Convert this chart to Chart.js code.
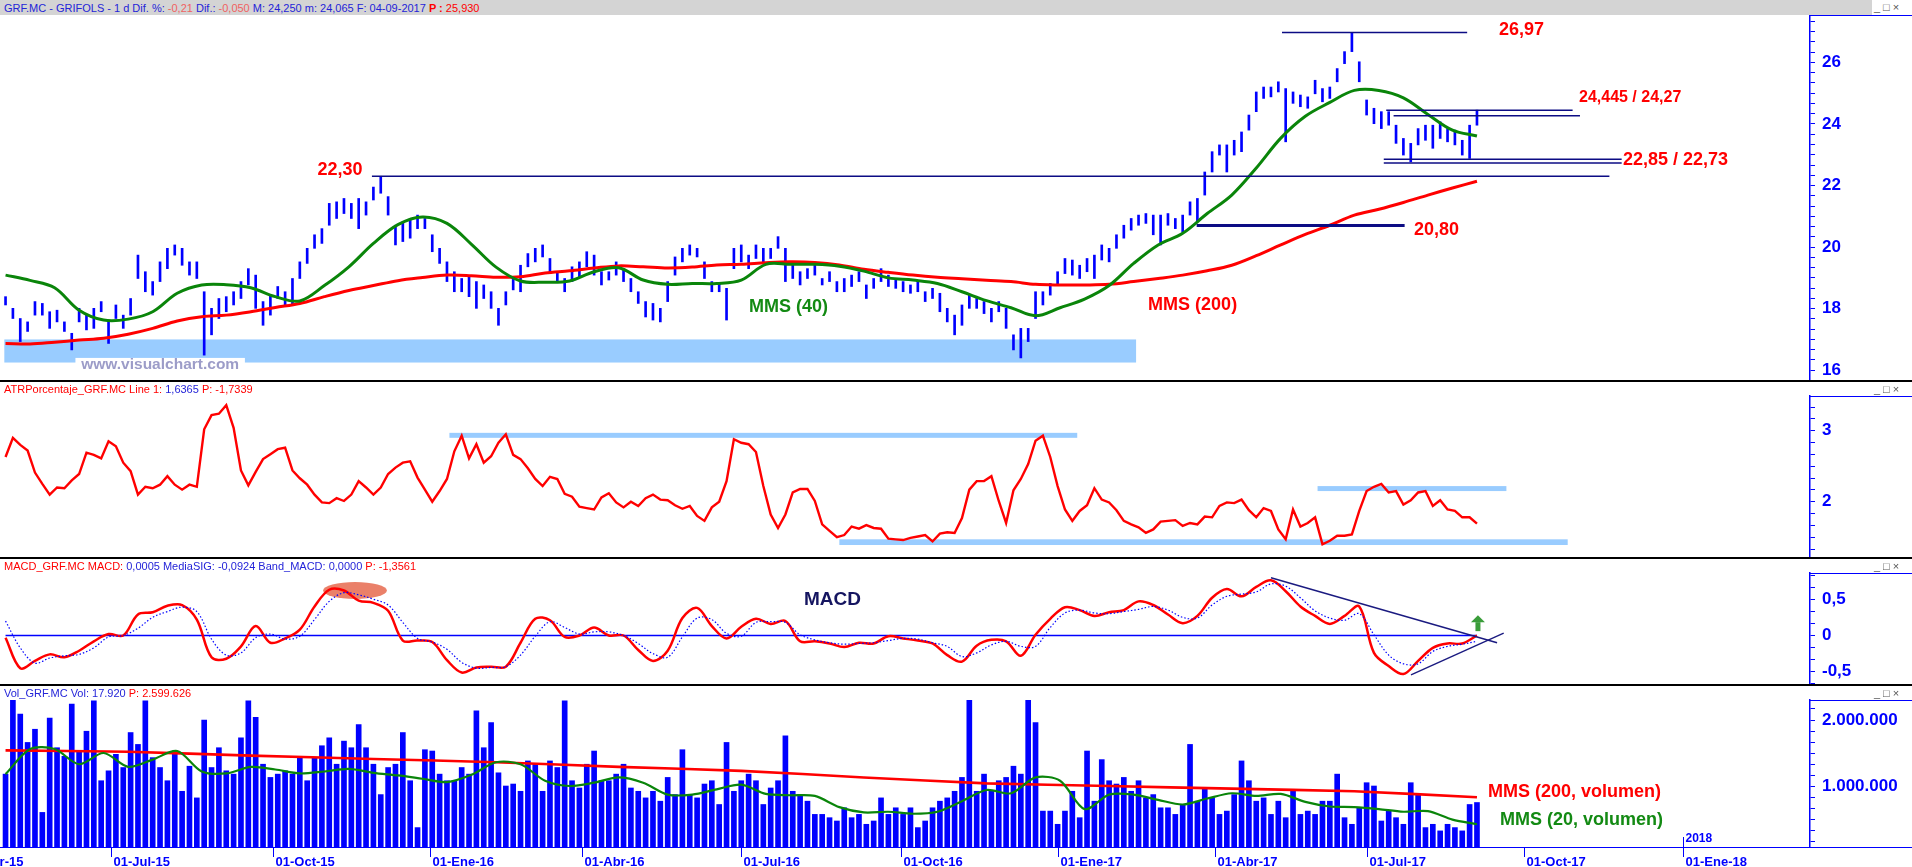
<!DOCTYPE html>
<html lang="es">
<head>
<meta charset="UTF-8">
<title>GRF.MC - GRIFOLS</title>
<script src="https://cdn.jsdelivr.net/npm/chart.js@4"></script>
<style>
  body { margin: 0; width: 1912px; height: 867px; position: relative; overflow: hidden; background: #fff;
         font-family: 'Liberation Sans', Arial, sans-serif; }
  canvas { position: absolute; left: 0; }
  .hdr { position: absolute; left: 4px; font-size: 11px; line-height: 12px; white-space: pre; z-index: 3; }
  .topbar { position: absolute; left: 0; top: 0; width: 1872px; height: 15px; background: #d4d4d4; }
  .sep { position: absolute; left: 0; width: 1912px; height: 1.5px; background: #000; z-index: 4; }
  .axtop { position: absolute; left: 1810px; width: 102px; height: 1.5px; background: #0000ff; z-index: 4; }
  .btns { position: absolute; left: 1874px; width: 36px; font-size: 11px; line-height: 11px; color: #555; z-index: 4;
          letter-spacing: 3px; }
  .b { color: #2424d8; } .s { color: #f06262; } .r { color: #ff0000; }
</style>
</head>
<body>
<div class="topbar"></div>
<div class="hdr" style="top:2px"><span class="b">GRF.MC - GRIFOLS - 1 d Dif. %: </span><span class="s">-0,21</span><span class="b"> Dif.: </span><span class="s">-0,050</span><span class="b"> M: 24,250 m: 24,065 F: 04-09-2017 </span><span class="r"><b>P :</b> 25,930</span></div>
<div class="hdr" style="top:383px"><span class="r">ATRPorcentaje_GRF.MC Line 1: </span><span class="b">1,6365</span><span class="r"> P: -1,7339</span></div>
<div class="hdr" style="top:560px"><span class="r">MACD_GRF.MC MACD: </span><span class="b">0,0005 MediaSIG: -0,0924 Band_MACD: 0,0000</span><span class="r"> P: -1,3561</span></div>
<div class="hdr" style="top:687px"><span class="b">Vol_GRF.MC Vol: 17.920</span><span class="r"> P: 2.599.626</span></div>

<div class="btns" style="top:2px">_□×</div>
<div class="btns" style="top:384px">_□×</div>
<div class="btns" style="top:561px">_□×</div>
<div class="btns" style="top:688px">_□×</div>

<div class="sep" style="top:380px"></div>
<div class="sep" style="top:557px"></div>
<div class="sep" style="top:684px"></div>
<div class="axtop" style="top:14.5px"></div>
<div class="axtop" style="top:395.5px"></div>
<div class="axtop" style="top:572.5px"></div>
<div class="axtop" style="top:699.5px"></div>
<div class="sep" style="top:846.5px; background:#0000ff"></div>

<canvas id="cMain" width="1912" height="366" style="top:15px"></canvas>
<canvas id="cAtr" width="1912" height="177" style="top:381px"></canvas>
<canvas id="cMacd" width="1912" height="127" style="top:558px"></canvas>
<canvas id="cVol" width="1912" height="182" style="top:685px"></canvas>

<script>
// x axis is in trading-day index, 0 = 01-Jul-2015
const X_MIN = -45.26, X_MAX = 692.8;
const BAR_START = -43, BAR_STEP = 3;      // price / volume / ATR samples
const MA_START = -43, MA_STEP = 10;       // moving averages
const MACD_START = -43, MACD_STEP = 6;
const VMA200_STEP = 50;

const dateTicks = [-61, 0, 66, 130, 192, 257, 322, 386, 450, 512, 576, 641];
const dateLabels = ['01-Abr-15', '01-Jul-15', '01-Oct-15', '01-Ene-16', '01-Abr-16', '01-Jul-16',
                    '01-Oct-16', '01-Ene-17', '01-Abr-17', '01-Jul-17', '01-Oct-17', '01-Ene-18'];

const priceHigh = [
  18.39, 18.01, 17.68, 17.57, 18.23, 18.17, 17.90, 17.95, 17.57, 17.20,
  18.01, 17.79, 18.01, 18.23, 17.57, 18.12, 17.79, 18.33, 19.74, 19.20,
  18.88, 19.52, 19.96, 20.07, 19.96, 19.52, 19.52, 18.55, 18.01, 18.33,
  18.39, 18.55, 18.88, 19.30, 19.09, 18.23, 18.44, 18.72, 18.55, 18.98,
  19.52, 19.96, 20.40, 20.60, 21.42, 21.47, 21.58, 21.42, 21.58, 21.47,
  21.95, 22.30, 21.64, 20.71, 20.82, 20.93, 21.04, 20.93, 20.40, 19.96,
  19.52, 19.20, 18.98, 19.03, 18.88, 18.77, 18.55, 18.01, 18.55, 19.03,
  19.41, 19.79, 19.96, 20.07, 19.63, 19.20, 18.98, 19.36, 19.52, 19.85,
  19.74, 19.20, 19.20, 19.52, 19.30, 18.98, 18.55, 18.23, 18.17, 18.01,
  18.88, 19.68, 19.96, 20.07, 19.96, 19.52, 18.88, 18.82, 18.66, 19.96,
  20.07, 19.74, 20.07, 19.96, 19.96, 20.34, 19.96, 19.41, 19.20, 19.30,
  19.41, 18.98, 19.20, 18.88, 18.98, 19.09, 19.20, 18.77, 18.98, 19.30,
  19.09, 18.98, 18.88, 18.77, 18.88, 18.55, 18.66, 18.50, 18.01, 17.79,
  18.12, 18.44, 18.33, 18.23, 18.01, 18.23, 18.01, 17.15, 17.36, 17.36,
  18.55, 18.55, 18.82, 19.20, 19.63, 19.58, 19.41, 19.63, 19.74, 20.07,
  19.96, 20.40, 20.71, 20.93, 21.04, 21.09, 21.04, 21.04, 21.09, 20.93,
  21.04, 21.47, 21.58, 22.44, 23.10, 23.32, 23.32, 23.47, 23.74, 24.29,
  25.04, 25.20, 25.20, 25.37, 25.15, 25.04, 24.94, 24.88, 25.42, 25.15,
  25.20, 25.80, 26.35, 26.97, 26.02, 24.78, 24.51, 24.40, 24.40, 23.96,
  23.53, 23.37, 23.85, 23.96, 23.96, 24.07, 23.85, 23.80, 23.47, 23.96,
  24.45
];
const priceLow = [
  18.12, 17.68, 16.93, 17.26, 17.79, 17.79, 17.36, 17.57, 17.26, 16.66,
  17.57, 17.31, 17.36, 17.90, 16.87, 17.68, 17.36, 17.79, 18.98, 18.55,
  18.44, 18.88, 19.30, 19.74, 19.41, 19.09, 18.98, 16.49, 17.15, 17.68,
  17.90, 18.12, 18.33, 18.77, 18.01, 17.46, 17.79, 18.33, 18.12, 18.12,
  18.98, 19.47, 19.96, 20.12, 20.71, 20.93, 21.09, 20.93, 20.60, 21.04,
  21.53, 21.75, 21.04, 20.07, 20.18, 20.29, 20.60, 20.60, 19.85, 19.47,
  18.88, 18.55, 18.55, 18.39, 18.01, 18.33, 18.01, 17.46, 18.12, 18.61,
  18.55, 19.36, 19.52, 19.68, 19.14, 18.88, 18.55, 18.88, 19.03, 19.36,
  19.09, 18.77, 18.93, 19.09, 18.88, 18.55, 18.17, 17.73, 17.63, 17.57,
  18.23, 19.09, 19.52, 19.74, 19.68, 18.98, 18.55, 18.55, 17.63, 19.30,
  19.52, 19.30, 19.63, 19.52, 19.63, 19.96, 18.88, 18.98, 18.77, 18.98,
  19.09, 18.77, 18.88, 18.55, 18.55, 18.72, 18.88, 18.33, 18.66, 18.88,
  18.72, 18.66, 18.55, 18.50, 18.55, 18.23, 18.33, 17.90, 17.57, 17.15,
  17.46, 18.01, 18.01, 17.84, 17.57, 17.90, 17.36, 16.66, 16.40, 16.93,
  17.68, 18.12, 18.44, 18.77, 19.14, 19.09, 18.98, 19.20, 18.98, 19.58,
  19.52, 19.96, 20.29, 20.55, 20.71, 20.77, 20.40, 20.07, 20.71, 20.60,
  20.49, 21.04, 20.82, 21.69, 22.44, 22.99, 22.44, 22.99, 23.10, 23.80,
  24.40, 24.83, 24.88, 25.04, 23.42, 24.67, 24.56, 24.51, 24.98, 24.72,
  24.83, 25.37, 25.96, 26.35, 25.37, 24.29, 24.01, 23.85, 23.96, 23.37,
  22.99, 22.77, 23.32, 23.47, 23.21, 23.53, 23.42, 23.32, 22.99, 22.88,
  23.96
];
const mms40 = [
  19.09, 18.92, 18.68, 17.95, 17.63, 17.66, 17.90, 18.50, 18.77, 18.78,
  18.68, 18.39, 18.25, 18.75, 19.36, 20.12, 20.73, 20.98, 20.77, 20.09,
  19.35, 18.90, 18.86, 18.90, 19.20, 19.33, 18.93, 18.79, 18.82, 18.82,
  18.93, 19.44, 19.44, 19.44, 19.38, 19.22, 19.00, 18.93, 18.82, 18.55,
  18.26, 18.03, 17.77, 18.03, 18.31, 18.75, 19.47, 20.07, 20.45, 21.09,
  21.69, 22.57, 23.54, 24.25, 24.70, 25.09, 25.09, 24.85, 24.31, 23.80,
  23.61
];
const mms200 = [
  16.87, 16.85, 16.91, 16.98, 17.04, 17.17, 17.36, 17.60, 17.74, 17.79,
  17.90, 18.04, 18.17, 18.39, 18.59, 18.75, 18.91, 19.01, 19.09, 19.07,
  19.02, 19.04, 19.16, 19.23, 19.32, 19.39, 19.36, 19.32, 19.35, 19.42,
  19.44, 19.49, 19.52, 19.50, 19.42, 19.28, 19.18, 19.09, 19.02, 18.97,
  18.92, 18.88, 18.79, 18.77, 18.77, 18.79, 18.88, 18.98, 19.09, 19.23,
  19.41, 19.72, 20.07, 20.41, 20.71, 21.04, 21.23, 21.45, 21.69, 21.92,
  22.14
];
const atrPct = [
  2.63, 2.90, 2.80, 2.72, 2.41, 2.25, 2.10, 2.20, 2.19, 2.30,
  2.39, 2.69, 2.66, 2.61, 2.85, 2.78, 2.55, 2.43, 2.10, 2.21,
  2.19, 2.24, 2.36, 2.24, 2.17, 2.24, 2.21, 3.02, 3.22, 3.24,
  3.36, 3.04, 2.44, 2.23, 2.42, 2.60, 2.67, 2.74, 2.76, 2.44,
  2.33, 2.24, 2.10, 1.99, 1.98, 2.05, 2.01, 2.10, 2.29, 2.20,
  2.10, 2.20, 2.39, 2.48, 2.55, 2.57, 2.34, 2.17, 2.00, 2.15,
  2.32, 2.71, 2.93, 2.61, 2.81, 2.55, 2.64, 2.83, 2.95, 2.66,
  2.60, 2.47, 2.32, 2.22, 2.35, 2.32, 2.11, 2.07, 1.93, 1.91,
  1.89, 2.06, 2.12, 1.99, 1.92, 2.00, 1.94, 2.05, 2.10, 2.03,
  2.02, 1.95, 1.90, 1.94, 1.80, 1.73, 1.92, 2.00, 2.29, 2.88,
  2.83, 2.81, 2.70, 2.22, 1.82, 1.63, 1.82, 2.13, 2.18, 2.18,
  2.01, 1.68, 1.59, 1.50, 1.53, 1.65, 1.62, 1.67, 1.63, 1.62,
  1.48, 1.47, 1.46, 1.49, 1.51, 1.53, 1.44, 1.55, 1.57, 1.56,
  1.77, 2.17, 2.29, 2.29, 2.36, 2.01, 1.70, 2.16, 2.32, 2.53,
  2.86, 2.93, 2.63, 2.22, 1.89, 1.73, 1.87, 1.95, 2.19, 2.03,
  1.99, 1.88, 1.73, 1.68, 1.64, 1.56, 1.61, 1.72, 1.73, 1.74,
  1.66, 1.70, 1.68, 1.79, 1.78, 1.94, 1.99, 1.98, 2.03, 1.88,
  1.78, 1.91, 1.87, 1.61, 1.47, 1.89, 1.65, 1.70, 1.78, 1.40,
  1.45, 1.52, 1.52, 1.54, 1.87, 2.15, 2.21, 2.25, 2.13, 2.15,
  1.96, 2.02, 2.13, 2.15, 1.94, 2.02, 1.89, 1.87, 1.78, 1.78,
  1.69
];
const macdLine = [
  -0.03, -0.45, -0.35, -0.26, -0.30, -0.21, -0.08, 0.02, 0.00, 0.29,
  0.32, 0.41, 0.42, 0.22, -0.30, -0.32, -0.15, 0.13, -0.10, -0.04,
  0.08, 0.40, 0.63, 0.62, 0.48, 0.45, 0.34, -0.07, -0.07, -0.09,
  -0.34, -0.51, -0.44, -0.43, -0.43, -0.10, 0.23, 0.21, -0.02, 0.00,
  0.11, 0.00, 0.00, -0.20, -0.35, -0.21, 0.24, 0.38, 0.13, -0.04,
  0.12, 0.23, 0.16, 0.20, -0.08, -0.08, -0.11, -0.16, -0.10, -0.11,
  -0.01, -0.04, -0.07, -0.11, -0.27, -0.36, -0.14, -0.06, -0.08, -0.28,
  0.01, 0.23, 0.39, 0.35, 0.27, 0.32, 0.35, 0.47, 0.42, 0.29,
  0.17, 0.27, 0.52, 0.64, 0.54, 0.67, 0.76, 0.61, 0.40, 0.27,
  0.16, 0.27, 0.40, -0.24, -0.42, -0.53, -0.35, -0.17, -0.11, -0.11,
  0.00
];
const macdSignal = [
  0.20, -0.17, -0.38, -0.31, -0.28, -0.26, -0.17, -0.02, 0.00, 0.10,
  0.25, 0.33, 0.39, 0.33, -0.05, -0.27, -0.24, -0.03, 0.02, -0.05,
  -0.01, 0.22, 0.47, 0.59, 0.56, 0.50, 0.42, 0.18, -0.04, -0.09,
  -0.19, -0.37, -0.45, -0.44, -0.43, -0.27, -0.01, 0.19, 0.11, 0.02,
  0.05, 0.05, 0.00, -0.11, -0.25, -0.30, -0.02, 0.24, 0.22, 0.03,
  -0.01, 0.18, 0.19, 0.18, 0.01, -0.06, -0.10, -0.12, -0.11, -0.10,
  -0.07, -0.04, -0.05, -0.10, -0.15, -0.29, -0.24, -0.13, -0.08, -0.15,
  -0.15, 0.11, 0.31, 0.35, 0.31, 0.30, 0.33, 0.36, 0.40, 0.35,
  0.25, 0.24, 0.42, 0.54, 0.57, 0.60, 0.71, 0.68, 0.52, 0.34,
  0.24, 0.21, 0.30, 0.01, -0.27, -0.39, -0.39, -0.22, -0.15, -0.12,
  -0.08
];
// volume in millions of shares
const volume = [
  1.18, 2.40, 2.09, 1.66, 1.86, 0.60, 2.03, 1.58, 1.45, 2.24,
  1.53, 1.83, 2.29, 1.08, 1.23, 1.48, 1.28, 1.81, 1.63, 2.29,
  1.43, 1.28, 1.08, 1.53, 0.92, 1.30, 0.82, 2.00, 1.28, 1.58,
  1.23, 1.18, 1.73, 2.29, 2.04, 1.33, 1.13, 1.18, 1.23, 1.18,
  1.43, 1.08, 1.43, 1.61, 1.73, 1.33, 1.68, 1.58, 1.93, 1.58,
  1.33, 0.87, 1.28, 1.33, 1.81, 1.08, 0.37, 1.55, 1.53, 1.18,
  1.08, 1.08, 1.28, 1.18, 2.14, 1.58, 1.96, 1.20, 1.00, 1.03,
  0.92, 1.38, 1.33, 0.92, 1.38, 1.28, 2.29, 1.08, 0.97, 1.33,
  1.53, 1.08, 1.08, 1.18, 1.33, 0.97, 0.92, 0.82, 0.92, 0.77,
  1.13, 0.87, 1.55, 0.87, 0.82, 1.03, 1.08, 0.72, 1.66, 0.92,
  1.08, 1.18, 1.08, 0.72, 0.97, 1.08, 1.76, 0.92, 0.87, 0.77,
  0.57, 0.57, 0.52, 0.47, 0.67, 0.52, 0.57, 0.42, 0.47, 0.82,
  0.57, 0.67, 0.57, 0.67, 0.37, 0.47, 0.67, 0.77, 0.82, 0.92,
  1.13, 2.30, 0.92, 1.18, 0.92, 1.08, 1.13, 1.30, 1.18, 2.31,
  1.96, 0.62, 0.62, 0.42, 0.62, 0.92, 0.52, 1.53, 0.77, 1.40,
  1.08, 1.03, 1.13, 0.92, 1.08, 0.82, 0.87, 0.67, 0.67, 0.57,
  0.72, 1.63, 0.77, 0.97, 0.82, 0.57, 0.62, 0.87, 1.38, 1.08,
  0.77, 0.82, 0.57, 0.77, 0.52, 0.92, 0.57, 0.62, 0.57, 0.77,
  0.77, 1.18, 0.52, 0.42, 0.67, 1.05, 1.00, 0.47, 0.62, 0.52,
  0.42, 1.05, 0.87, 0.37, 0.42, 0.32, 0.42, 0.37, 0.32, 0.72,
  0.75
];
const volMA20 = [
  1.18, 1.56, 1.56, 1.33, 1.50, 1.29, 1.40, 1.53, 1.22, 1.19,
  1.29, 1.25, 1.19, 1.22, 1.26, 1.20, 1.16, 1.11, 1.06, 1.17,
  1.36, 1.33, 1.08, 1.00, 1.05, 1.13, 1.05, 0.87, 0.87, 0.95,
  1.02, 0.88, 0.86, 0.85, 0.68, 0.60, 0.61, 0.58, 0.61, 0.77,
  0.94, 0.89, 1.13, 1.08, 0.65, 0.87, 0.87, 0.79, 0.72, 0.81,
  0.89, 0.85, 0.88, 0.76, 0.69, 0.68, 0.65, 0.61, 0.62, 0.49,
  0.42
];
const volMA200 = [1.54, 1.52, 1.46, 1.41, 1.36, 1.29, 1.23, 1.13, 1.04, 1.00, 0.96, 0.92, 0.83];

// chart notes
const priceLevels = [22.30, 26.97, 24.445, 24.27, 22.85, 22.73, 20.70];
const levelSpan = [[106.4, 611], [477.5, 553], [520, 596], [523, 599], [519, 616], [519, 616], [442.7, 527.5]];
const levelWidth = [1.5, 1.5, 1.5, 1.5, 1.5, 1.5, 3];
const priceNotes = [
  { t: '26,97', x: 566, y: 27.05, size: 18, color: '#ff0000', align: 'left' },
  { t: '24,445 / 24,27', x: 598.6, y: 24.86, size: 16, color: '#ff0000', align: 'left' },
  { t: '22,85 / 22,73', x: 616.5, y: 22.83, size: 18, color: '#ff0000', align: 'left' },
  { t: '22,30', x: 102.6, y: 22.50, size: 18, color: '#ff0000', align: 'right' },
  { t: '20,80', x: 531.3, y: 20.56, size: 18, color: '#ff0000', align: 'left' },
  { t: 'MMS (40)', x: 260.2, y: 18.06, size: 18, color: '#138a13', align: 'left' },
  { t: 'MMS (200)', x: 422.9, y: 18.12, size: 18, color: '#ff0000', align: 'left' }
];
const supportZone = { x0: -43.5, x1: 418, y0: 16.25, y1: 17.0 };
const atrBands = [{ x0: 138, x1: 394, y0: 2.90, y1: 2.97 }, { x0: 297, x1: 594, y0: 1.39, y1: 1.47 },
                  { x0: 492, x1: 569, y0: 2.15, y1: 2.22 }];
const macdTrend = [[473, 0.796, 565.2, -0.10], [530.1, -0.544, 567.9, 0.034]];
const volNotes = [
  { t: 'MMS (200, volumen)', x: 561.5, y: 0.91, size: 18, color: '#ff0000', align: 'left' },
  { t: 'MMS (20, volumen)', x: 566.4, y: 0.485, size: 18, color: '#138a13', align: 'left' }
];

const BLUE = '#0000ff', AXIS_BLUE = '#0000ff', NAVY = '#0c0c84', RED = '#ff0000', GREEN = '#0a850a';
Chart.defaults.font.family = "'Liberation Sans', Arial, sans-serif";

const pts = (arr, start, step) => arr.map((v, i) => ({ x: start + i * step, y: v }));

function rightAxis(min, max, div, every, fmt) {
  return {
    position: 'right', min: min, max: max,
    afterFit(s) { s.width = 102; s.paddingTop = 0; s.paddingBottom = 0; },
    afterBuildTicks(s) {
      const t = [];
      for (let n = Math.ceil(min * div); n <= Math.floor(max * div); n++) t.push({ value: n / div });
      s.ticks = t;
    },
    grid: { drawOnChartArea: false, tickLength: 5, color: AXIS_BLUE, lineWidth: 1 },
    border: { color: AXIS_BLUE, width: 1.5 },
    ticks: {
      autoSkip: false, padding: 7, color: AXIS_BLUE, font: { size: 17, weight: 'bold' },
      callback(v) { const n = Math.round(v * div); return n % every === 0 ? fmt(n / div) : ''; }
    }
  };
}

function baseOptions(yAxis, padTop, padBottom) {
  return {
    responsive: false, animation: false, devicePixelRatio: 1,
    layout: { padding: { top: padTop, bottom: padBottom, left: 0, right: 0 } },
    plugins: { legend: { display: false }, tooltip: { enabled: false } },
    scales: {
      x: { type: 'linear', min: X_MIN, max: X_MAX, display: false, offset: false },
      y: yAxis
    }
  };
}

function text(ctx, s, x, y, size, color, align) {
  ctx.save();
  ctx.font = 'bold ' + size + "px 'Liberation Sans', Arial, sans-serif";
  ctx.fillStyle = color; ctx.textAlign = align || 'left'; ctx.textBaseline = 'middle';
  ctx.fillText(s, x, y);
  ctx.restore();
}
function hline(ctx, x0, x1, y, w, color) {
  ctx.save(); ctx.strokeStyle = color; ctx.lineWidth = w;
  ctx.beginPath(); ctx.moveTo(x0, y); ctx.lineTo(x1, y); ctx.stroke(); ctx.restore();
}
function band(chart, b, color) {
  const X = chart.scales.x, Y = chart.scales.y, a = chart.chartArea;
  const x0 = Math.max(X.getPixelForValue(b.x0), a.left), x1 = Math.min(X.getPixelForValue(b.x1), a.right);
  const y0 = Y.getPixelForValue(b.y1), y1 = Y.getPixelForValue(b.y0);
  chart.ctx.fillStyle = color;
  chart.ctx.fillRect(x0, y0, x1 - x0, y1 - y0);
}

// ---------- price panel ----------
new Chart(document.getElementById('cMain'), {
  type: 'bar',
  data: {
    datasets: [
      { type: 'line', data: pts(mms40, MA_START, MA_STEP), borderColor: GREEN, borderWidth: 3, pointRadius: 0, tension: 0.35 },
      { type: 'line', data: pts(mms200, MA_START, MA_STEP), borderColor: RED, borderWidth: 3, pointRadius: 0, tension: 0.35 },
      { type: 'bar', data: priceHigh.map((h, i) => ({ x: BAR_START + i * BAR_STEP, y: [priceLow[i], h] })),
        backgroundColor: BLUE, barThickness: 2 }
    ]
  },
  options: baseOptions(rightAxis(15.65, 27.54, 3, 6, v => String(v)), 0, 0),
  plugins: [{
    id: 'priceNotes',
    beforeDatasetsDraw(chart) {
      const ctx = chart.ctx, X = chart.scales.x, Y = chart.scales.y;
      ctx.save();
      band(chart, supportZone, '#99ccff');
      // watermark
      const wx0 = X.getPixelForValue(-14.5), wx1 = X.getPixelForValue(54.6);
      const wy0 = Y.getPixelForValue(16.40), wy1 = Y.getPixelForValue(16.01);
      ctx.fillStyle = '#ffffff'; ctx.fillRect(wx0, wy0, wx1 - wx0, wy1 - wy0);
      text(ctx, 'www.visualchart.com', (wx0 + wx1) / 2, (wy0 + wy1) / 2 + 1, 15.5, '#9c9cc8', 'center');
      ctx.restore();
    },
    afterDatasetsDraw(chart) {
      const ctx = chart.ctx, X = chart.scales.x, Y = chart.scales.y;
      priceLevels.forEach((v, i) => {
        hline(ctx, X.getPixelForValue(levelSpan[i][0]), X.getPixelForValue(levelSpan[i][1]),
              Y.getPixelForValue(v), levelWidth[i], NAVY);
      });
      priceNotes.forEach(n => text(ctx, n.t, X.getPixelForValue(n.x), Y.getPixelForValue(n.y), n.size, n.color, n.align));
    }
  }]
});

// ---------- ATR % panel ----------
new Chart(document.getElementById('cAtr'), {
  type: 'line',
  data: { datasets: [
    { data: pts(atrPct, BAR_START, BAR_STEP), borderColor: RED, borderWidth: 2.4, pointRadius: 0, tension: 0 }
  ] },
  options: baseOptions(rightAxis(1.207, 3.489, 6, 6, v => String(v)), 15, 0),
  plugins: [{
    id: 'atrBands',
    beforeDatasetsDraw(chart) { chart.ctx.save(); atrBands.forEach(b => band(chart, b, '#99ccff')); chart.ctx.restore(); }
  }]
});

// ---------- MACD panel ----------
new Chart(document.getElementById('cMacd'), {
  type: 'line',
  data: { datasets: [
    { data: pts(macdSignal, MACD_START, MACD_STEP), borderColor: BLUE, borderWidth: 1.2, borderDash: [1.5, 2], pointRadius: 0, tension: 0.35 },
    { data: pts(macdLine, MACD_START, MACD_STEP), borderColor: RED, borderWidth: 2.5, pointRadius: 0, tension: 0.35 },
    { data: [{ x: MACD_START, y: 0 }, { x: MACD_START + (macdLine.length - 1) * MACD_STEP, y: 0 }], borderColor: BLUE, borderWidth: 1.5, pointRadius: 0 }
  ] },
  options: baseOptions(rightAxis(-0.682, 0.861, 6, 3, v => String(v).replace('.', ',')), 15, 0),
  plugins: [{
    id: 'macdNotes',
    beforeDatasetsDraw(chart) {
      const ctx = chart.ctx, X = chart.scales.x, Y = chart.scales.y;
      const cx = X.getPixelForValue(99.5), cy = Y.getPixelForValue(0.62);
      const rx = X.getPixelForValue(99.5 + 13) - cx, ry = cy - Y.getPixelForValue(0.62 + 0.117);
      ctx.save(); ctx.fillStyle = '#ea8069';
      ctx.beginPath(); ctx.ellipse(cx, cy, rx, ry, 0, 0, Math.PI * 2); ctx.fill(); ctx.restore();
    },
    afterDatasetsDraw(chart) {
      const ctx = chart.ctx, X = chart.scales.x, Y = chart.scales.y;
      ctx.save(); ctx.strokeStyle = '#1a1a80'; ctx.lineWidth = 1.4;
      macdTrend.forEach(l => {
        ctx.beginPath(); ctx.moveTo(X.getPixelForValue(l[0]), Y.getPixelForValue(l[1]));
        ctx.lineTo(X.getPixelForValue(l[2]), Y.getPixelForValue(l[3])); ctx.stroke();
      });
      ctx.restore();
      text(ctx, 'MACD', X.getPixelForValue(294.2), Y.getPixelForValue(0.49), 19, '#151560', 'center');
      // green arrow
      const ax = X.getPixelForValue(557.4), yb = Y.getPixelForValue(0.06), yt = Y.getPixelForValue(0.28);
      const hb = yt + 7;
      ctx.save(); ctx.fillStyle = '#3a9d3a';
      ctx.beginPath(); ctx.moveTo(ax - 7, hb); ctx.lineTo(ax, yt); ctx.lineTo(ax + 7, hb); ctx.closePath(); ctx.fill();
      ctx.fillRect(ax - 2.5, hb, 5, yb - hb);
      ctx.restore();
    }
  }]
});

// ---------- volume panel ----------
new Chart(document.getElementById('cVol'), {
  type: 'bar',
  data: {
    datasets: [
      { type: 'line', data: pts(volMA20, MA_START, MA_STEP), borderColor: GREEN, borderWidth: 2.2, pointRadius: 0, tension: 0.3 },
      { type: 'line', data: pts(volMA200, MA_START, VMA200_STEP), borderColor: RED, borderWidth: 2.6, pointRadius: 0, tension: 0.2 },
      { type: 'bar', data: pts(volume, BAR_START, BAR_STEP), backgroundColor: BLUE, barThickness: 5 }
    ]
  },
  options: baseOptions(rightAxis(0.076, 2.303, 6, 6,
    v => String(Math.round(v * 1e6)).replace(/\B(?=(\d{3})+(?!\d))/g, '.')), 15, 20),
  plugins: [{
    id: 'volNotes',
    afterDraw(chart) {
      const ctx = chart.ctx, X = chart.scales.x, Y = chart.scales.y, a = chart.chartArea;
      volNotes.forEach(n => text(ctx, n.t, X.getPixelForValue(n.x), Y.getPixelForValue(n.y), n.size, n.color, n.align));
      // date axis
      ctx.save(); ctx.strokeStyle = AXIS_BLUE; ctx.lineWidth = 1;
      dateTicks.forEach((d, i) => {
        const px = Math.round(X.getPixelForValue(d)) + 0.5;
        ctx.beginPath(); ctx.moveTo(px, a.bottom); ctx.lineTo(px, a.bottom + 10); ctx.stroke();
        text(ctx, dateLabels[i], px + 2, a.bottom + 15, 13, AXIS_BLUE, 'left');
      });
      const py = Math.round(X.getPixelForValue(641)) + 0.5;
      ctx.beginPath(); ctx.moveTo(py, a.bottom - 10); ctx.lineTo(py, a.bottom); ctx.stroke();
      text(ctx, '2018', py + 2, a.bottom - 8, 12, AXIS_BLUE, 'left');
      ctx.restore();
    }
  }]
});
</script>
</body>
</html>
